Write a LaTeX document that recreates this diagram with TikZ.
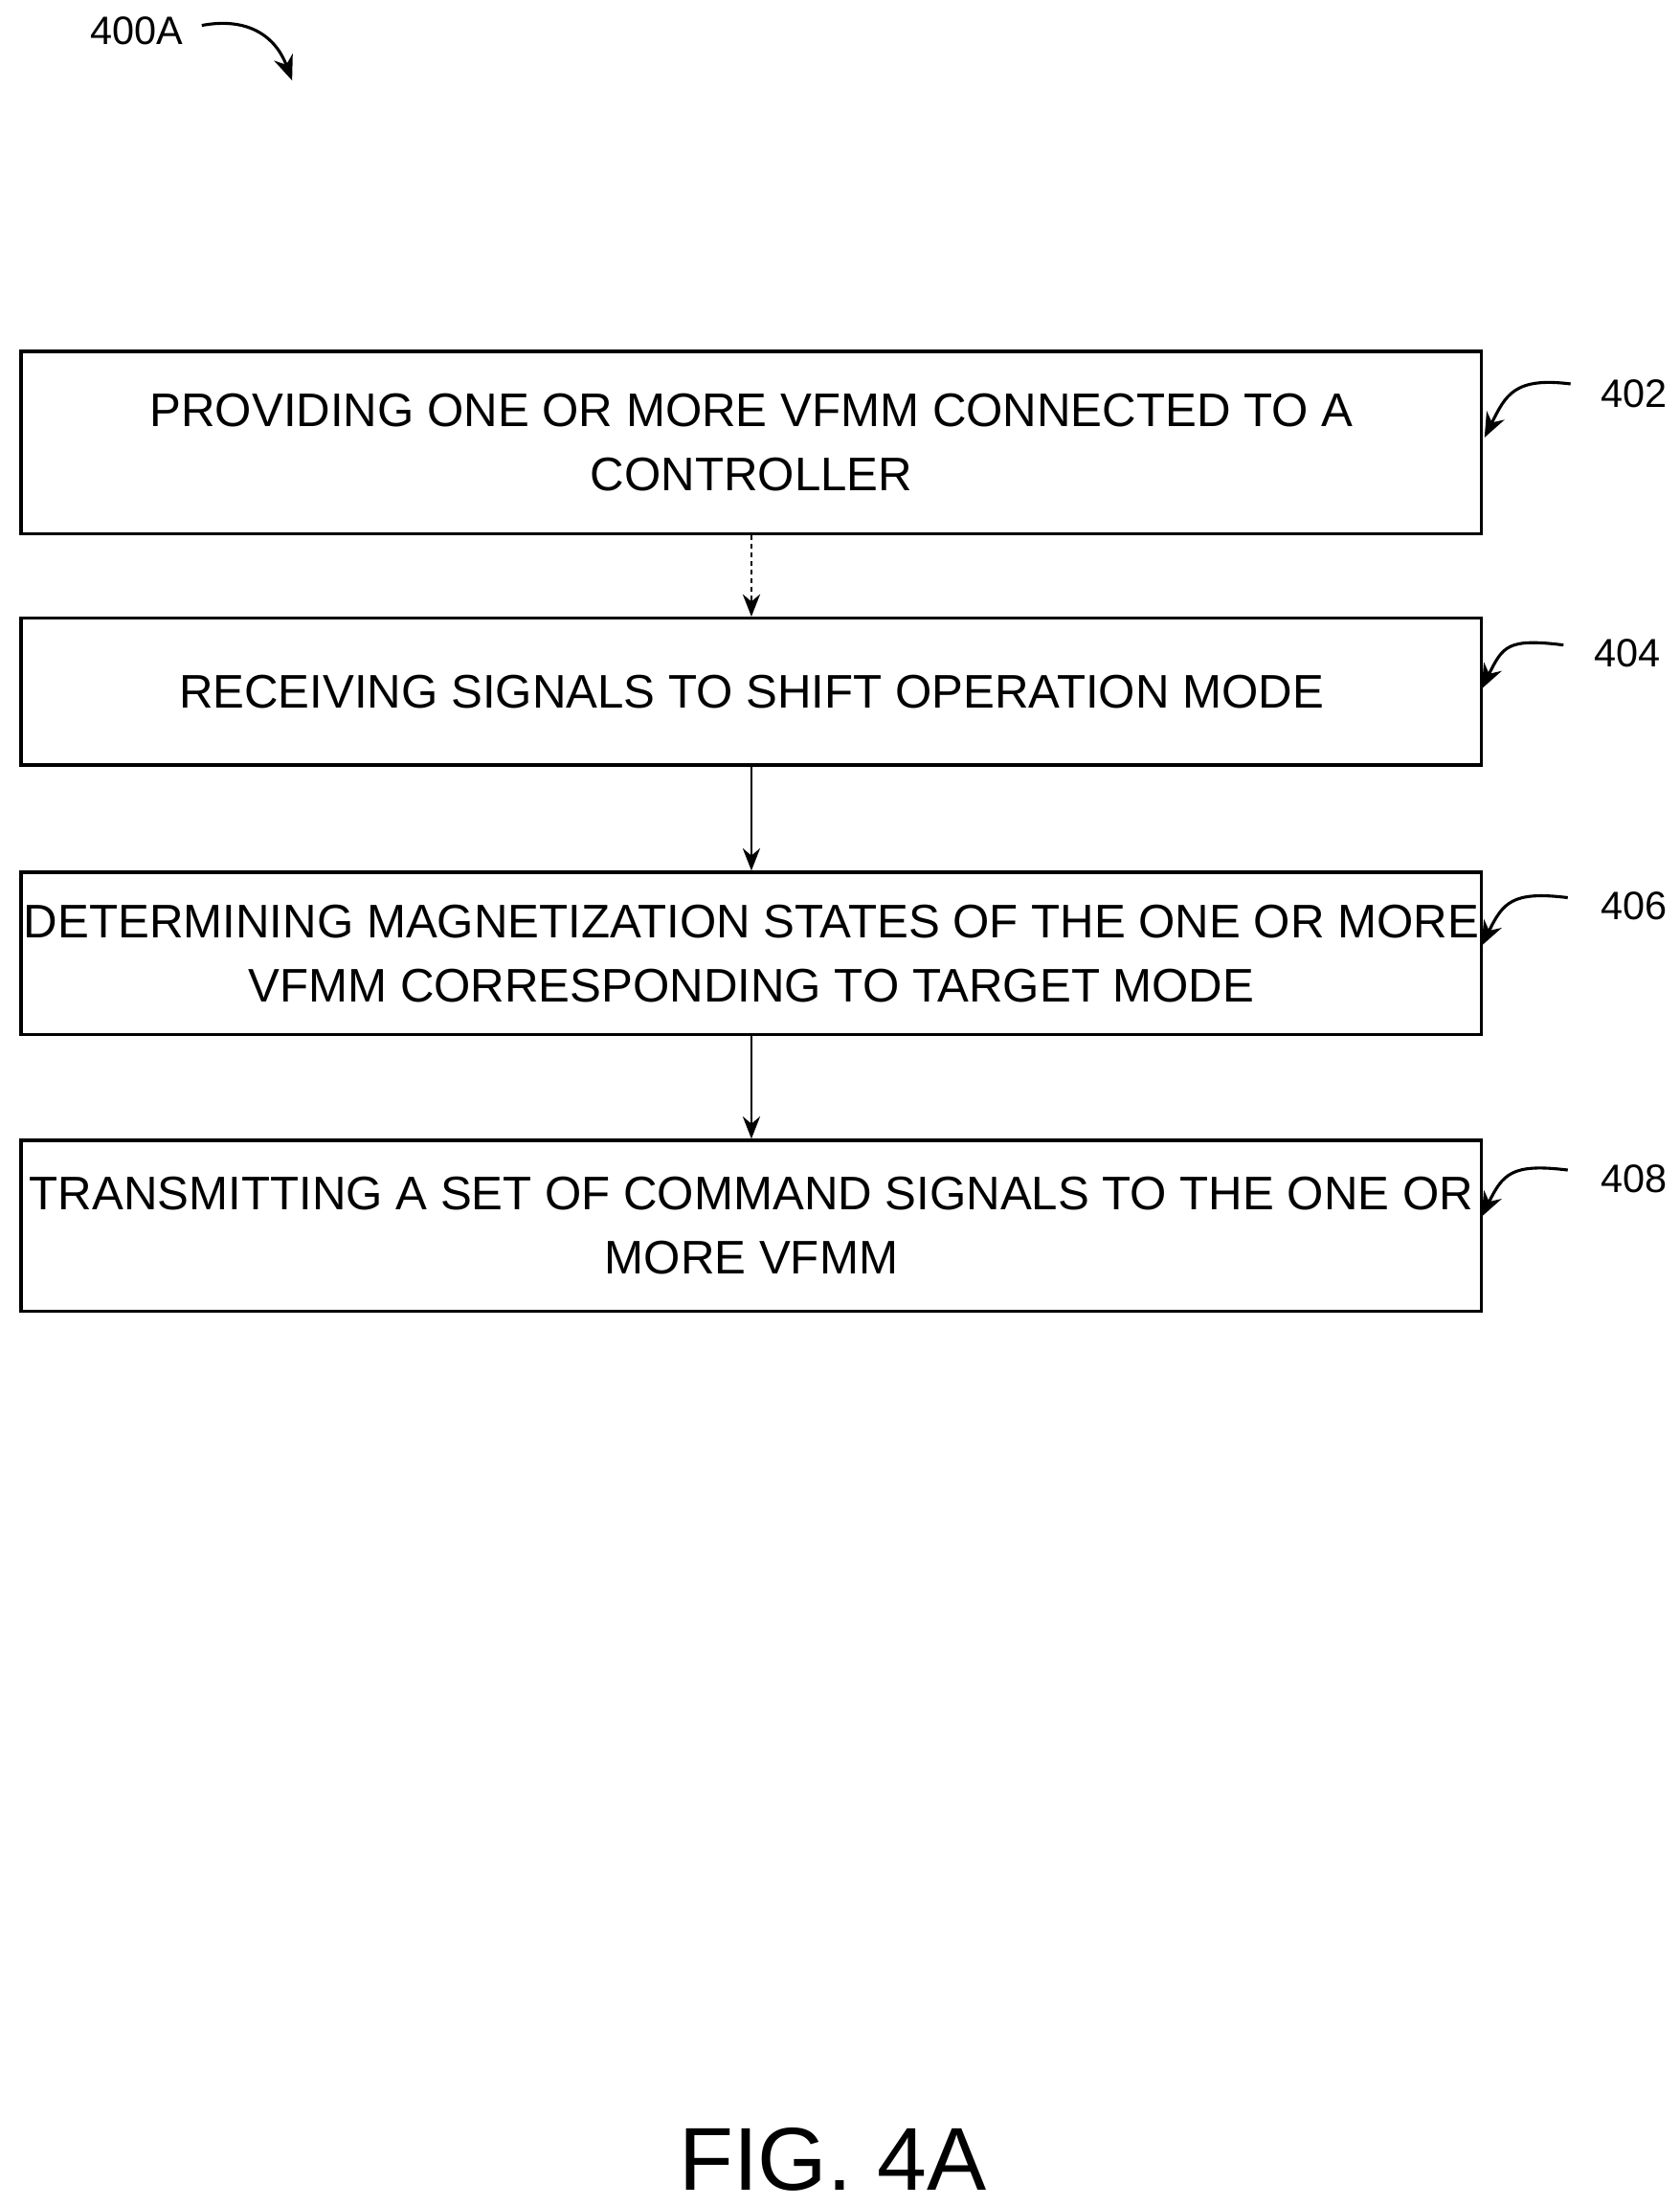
\documentclass[tikz,border=0pt]{standalone}
\usepackage{fontspec}
\setmainfont{Liberation Sans}
\usetikzlibrary{arrows.meta,calc}
\begin{document}
\begin{tikzpicture}[x=0.02cm,y=-0.02cm,
  box/.style={draw,line width=1.3pt,inner sep=0pt,align=center,font=\fontsize{19}{22}\selectfont},
  arr/.style={-{Stealth[length=9pt,width=7pt]},line width=1pt},
  lbl/.style={font=\fontsize{16}{18}\selectfont},
  lead/.style={-{Stealth[length=10pt,width=8pt]},line width=1.2pt}]
\useasboundingbox (0,0) rectangle (1190,1563);
\node[box,minimum width=1035*0.02cm,minimum height=129*0.02cm] (b1) at (532.5,313.5) {PROVIDING ONE OR MORE VFMM CONNECTED TO A\\[4pt] CONTROLLER};
\node[box,minimum width=1035*0.02cm,minimum height=104*0.02cm] (b2) at (532.5,490) {RECEIVING SIGNALS TO SHIFT OPERATION MODE};
\node[box,minimum width=1035*0.02cm,minimum height=115*0.02cm] (b3) at (532.5,675.5) {DETERMINING MAGNETIZATION STATES OF THE ONE OR MORE\\[4pt] VFMM CORRESPONDING TO TARGET MODE};
\node[box,minimum width=1035*0.02cm,minimum height=121*0.02cm] (b4) at (532.5,868.5) {TRANSMITTING A SET OF COMMAND SIGNALS TO THE ONE OR\\[4pt] MORE VFMM};
\draw[arr,dash pattern=on 2pt off 1.5pt] (b1.south) -- (b2.north);
\draw[arr] (b2.south) -- (b3.north);
\draw[arr] (b3.south) -- (b4.north);
\node[lbl] (l402) at (1158,279) {402};
\node[lbl] (l404) at (1153,463) {404};
\node[lbl] (l406) at (1158,642) {406};
\node[lbl] (l408) at (1158,835) {408};
\coordinate (s1) at (1113,272); \coordinate (e1) at (1052,310);
\coordinate (s2) at (1108,457); \coordinate (e2) at (1050,488);
\coordinate (s3) at (1111,636); \coordinate (e3) at (1050,670);
\coordinate (s4) at (1111,829); \coordinate (e4) at (1050,862);
\foreach \i in {1,2,3,4}{
  \draw[lead] (s\i) .. controls ($(s\i)+(-40,-5)$) and ($(e\i)+(15,-30)$) .. (e\i);
}
\node[lbl] (t400) at (97,22) {400A};
\coordinate (a1) at (143,18); \coordinate (a2) at (207,57);
\draw[lead] (a1) .. controls (175,12) and (195,25) .. (a2);
\node[font=\fontsize{36}{40}\selectfont] (fig) at (590,1530) {FIG. 4A};
\end{tikzpicture}
\end{document}
